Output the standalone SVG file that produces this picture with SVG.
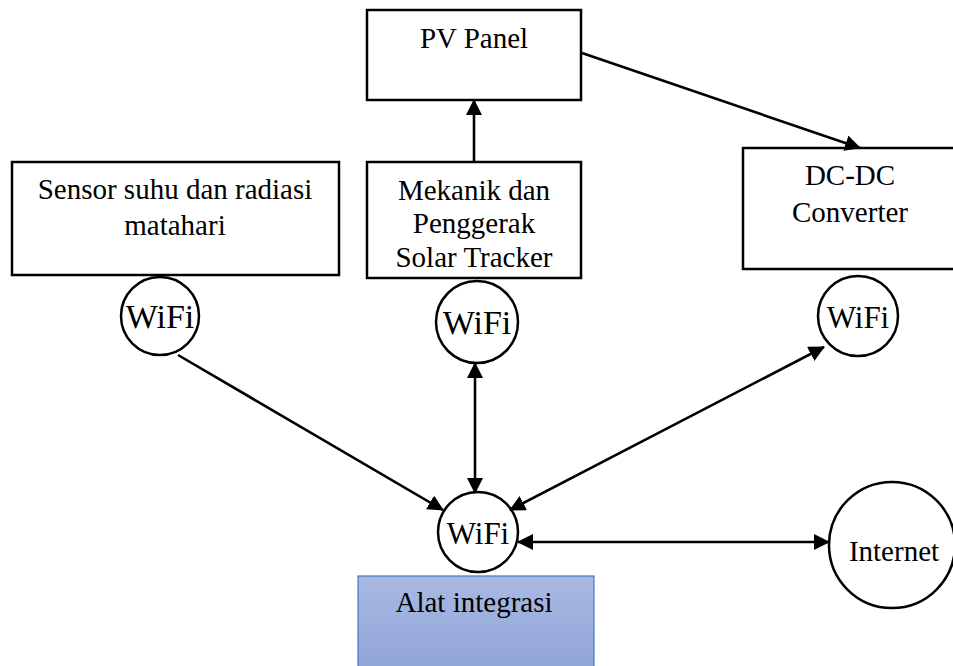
<svg xmlns="http://www.w3.org/2000/svg" width="953" height="666" viewBox="0 0 953 666">
  <style>
    .box { fill: #ffffff; stroke: #000000; stroke-width: 2.5; }
    .bubble { fill: #ffffff; stroke: #000000; stroke-width: 2.5; }
    .lbl { font-family: "Liberation Serif", "Times New Roman", serif; font-size: 29px; fill: #000000; text-anchor: middle; }
    .wifi { font-family: "Liberation Serif", "Times New Roman", serif; fill: #000000; text-anchor: middle; }
    .link { stroke: #000000; stroke-width: 2.6; fill: none; }
  </style>
  <defs>
    <marker id="head" markerUnits="userSpaceOnUse" markerWidth="16" markerHeight="16" viewBox="0 0 16 16" refX="15" refY="8" orient="auto-start-reverse">
      <path d="M0,0 L16,8 L0,16 z" fill="#000000"/>
    </marker>
    <linearGradient id="blueFill" x1="0" y1="0" x2="0" y2="1">
      <stop offset="0" stop-color="#a9b9e3"/>
      <stop offset="1" stop-color="#8ea3d6"/>
    </linearGradient>
  </defs>

  <g id="pv-panel">
    <rect class="box" x="367" y="10" width="214" height="90"/>
    <text class="lbl" x="474" y="48">PV Panel</text>
  </g>

  <g id="sensor">
    <rect class="box" x="12" y="162" width="327" height="113"/>
    <text class="lbl" x="175" y="199">Sensor suhu dan radiasi</text>
    <text class="lbl" x="175" y="235">matahari</text>
  </g>

  <g id="tracker">
    <rect class="box" x="367" y="162" width="214" height="116"/>
    <text class="lbl" x="474" y="200">Mekanik dan</text>
    <text class="lbl" x="474" y="233">Penggerak</text>
    <text class="lbl" x="474" y="267">Solar Tracker</text>
  </g>

  <g id="dcdc">
    <rect class="box" x="743" y="148" width="220" height="121"/>
    <text class="lbl" x="850" y="185">DC-DC</text>
    <text class="lbl" x="850" y="222">Converter</text>
  </g>

  <g id="wifi-sensor">
    <circle class="bubble" cx="160" cy="316" r="39"/>
    <text class="wifi" x="160" y="328" font-size="34">WiFi</text>
  </g>

  <g id="wifi-tracker">
    <circle class="bubble" cx="477" cy="322" r="41"/>
    <text class="wifi" x="477" y="334" font-size="34">WiFi</text>
  </g>

  <g id="wifi-dcdc">
    <circle class="bubble" cx="858" cy="316" r="40"/>
    <text class="wifi" x="858" y="328" font-size="31">WiFi</text>
  </g>

  <g id="wifi-hub">
    <circle class="bubble" cx="478" cy="532" r="40"/>
    <text class="wifi" x="478" y="544" font-size="31">WiFi</text>
  </g>

  <g id="internet">
    <circle class="bubble" cx="892" cy="545" r="63"/>
    <text class="lbl" x="894" y="561" font-size="32">Internet</text>
  </g>

  <g id="alat-integrasi">
    <rect x="358" y="576" width="236" height="100" fill="url(#blueFill)" stroke="#4a76c6" stroke-width="1.2"/>
    <text class="lbl" x="474" y="612">Alat integrasi</text>
  </g>

  <g id="connectors">
    <line class="link" x1="474" y1="162" x2="474" y2="100" marker-end="url(#head)"/>
    <line class="link" x1="582" y1="53" x2="860" y2="148" marker-end="url(#head)"/>
    <line class="link" x1="178" y1="355" x2="443" y2="510" marker-end="url(#head)"/>
    <line class="link" x1="475" y1="363" x2="475" y2="493" marker-start="url(#head)" marker-end="url(#head)"/>
    <line class="link" x1="510" y1="510" x2="824" y2="347" marker-start="url(#head)" marker-end="url(#head)"/>
    <line class="link" x1="518" y1="542" x2="829" y2="542" marker-start="url(#head)" marker-end="url(#head)"/>
  </g>
</svg>
